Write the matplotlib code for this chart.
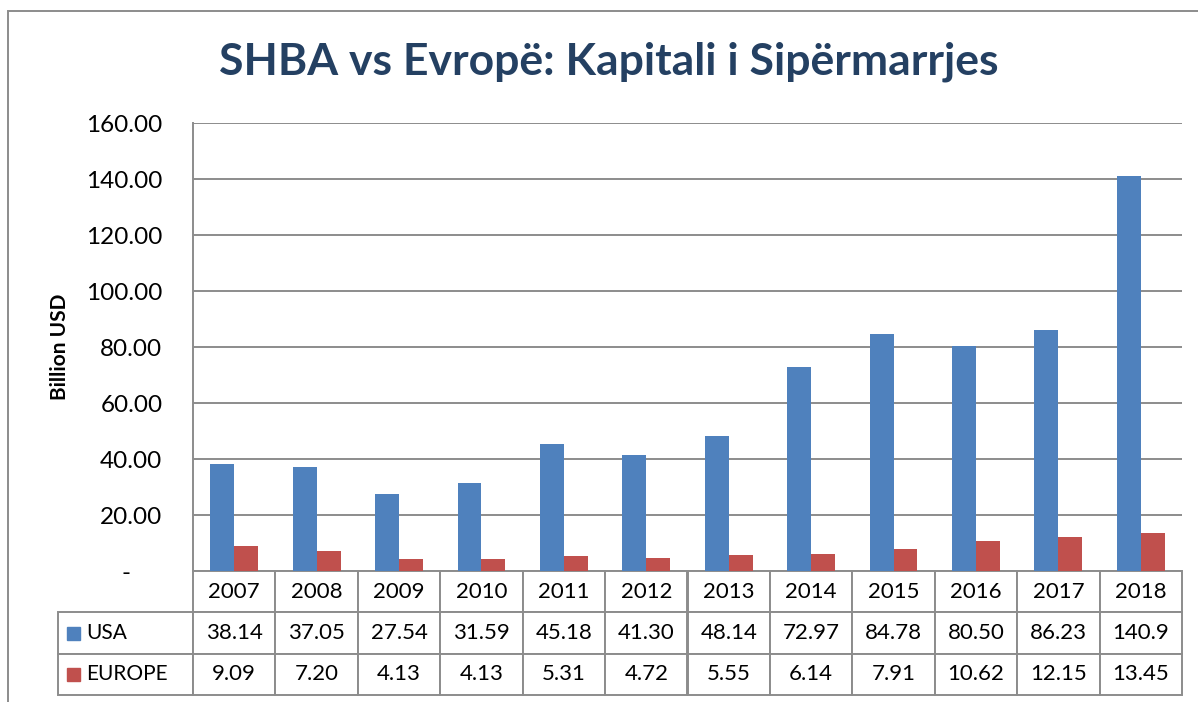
import matplotlib
matplotlib.use("Agg")
import matplotlib.pyplot as plt
import numpy as np
from matplotlib.table import Table
from matplotlib.patches import Rectangle

# data
years = ["2007", "2008", "2009", "2010", "2011", "2012",
         "2013", "2014", "2015", "2016", "2017", "2018"]
usa = [38.14, 37.05, 27.54, 31.59, 45.18, 41.30, 48.14, 72.97, 84.78, 80.50, 86.23, 140.9]
europe = [9.09, 7.20, 4.13, 4.13, 5.31, 4.72, 5.55, 6.14, 7.91, 10.62, 12.15, 13.45]
series_names = ["USA", "EUROPE"]
usa_labels = ["38.14", "37.05", "27.54", "31.59", "45.18", "41.30",
              "48.14", "72.97", "84.78", "80.50", "86.23", "140.9"]
europe_labels = ["9.09", "7.20", "4.13", "4.13", "5.31", "4.72",
                 "5.55", "6.14", "7.91", "10.62", "12.15", "13.45"]
yticks = [0, 20, 40, 60, 80, 100, 120, 140, 160]
ytick_labels = ["-     ", "20.00", "40.00", "60.00", "80.00", "100.00", "120.00", "140.00", "160.00"]

blue = "#4F81BD"
red = "#C0504D"
grid_col = "#8C8C8C"

plt.rcParams['font.family'] = ['Lato', 'DejaVu Sans']

fig = plt.figure(figsize=(11.98, 7.02), dpi=100)
ax = fig.add_axes([193/1198, 1 - 571/702, 989/1198, 448/702])

x = np.arange(len(years))
bw = 0.29
ax.bar(x - bw/2, usa, bw, color=blue, zorder=3)
ax.bar(x + bw/2, europe, bw, color=red, zorder=3)

ax.set_xlim(-0.5, len(years) - 0.5)
ax.set_ylim(0, 160)
ax.set_yticks(yticks)
ax.set_yticklabels(ytick_labels, fontsize=17.5)
ax.set_xticks([])
ax.tick_params(axis='y', length=0, pad=22)
ax.yaxis.grid(True, color=grid_col, linewidth=1.4, zorder=0)
for s in ["top", "right", "bottom"]:
    ax.spines[s].set_visible(False)
ax.spines["left"].set_color(grid_col)
ax.spines["left"].set_linewidth(1.4)

ax.set_ylabel("Billion USD", fontsize=15, fontweight="bold")
ax.yaxis.set_label_coords((70 - 193) / 989, 0.5)

# data table under the plot
tab_h = 124 / 448
lab_w = 135 / 989
col_w = 1 / len(years)
tbl = Table(ax, bbox=[0, -tab_h, 1, tab_h])
rows = [usa_labels, europe_labels]
for j, yr in enumerate(years):
    tbl.add_cell(0, j, col_w, 1, text=yr, loc="center")
    for i, vals in enumerate(rows):
        tbl.add_cell(i + 1, j, col_w, 1, text=vals[j], loc="center")
label_cells = []
for i, name in enumerate(series_names):
    c = tbl.add_cell(i + 1, -1, lab_w, 1, text=name, loc="left")
    c.PAD = 0.207
    label_cells.append(c)
tbl.auto_set_font_size(False)
tbl.set_fontsize(16)
for c in label_cells:
    c.get_text().set_fontsize(15)
for cell in tbl.get_celld().values():
    cell.set_edgecolor(grid_col)
    cell.set_linewidth(1.4)
ax.add_table(tbl)

# legend keys in the row label cells
for i, col in enumerate([blue, red]):
    yc = -(tab_h / 3) * (i + 1.5)
    ax.add_patch(Rectangle((-lab_w + 9/989, yc - 6.5/448), 13/989, 13/448,
                           transform=ax.transAxes, color=col, clip_on=False))

fig.suptitle("SHBA vs Evropë: Kapitali i Sipërmarrjes", x=609/1198, y=1 - 62/702,
             va="center", fontsize=32, fontweight="bold", color="#244062")

# outer chart frame (left and top edges visible)
fig.patches.append(Rectangle((8/1198, -0.1), 2, 1.1 - 11/702, transform=fig.transFigure,
                             fill=False, edgecolor="#8C8C8C", linewidth=1.4))

fig.savefig("out.png", dpi=100)
